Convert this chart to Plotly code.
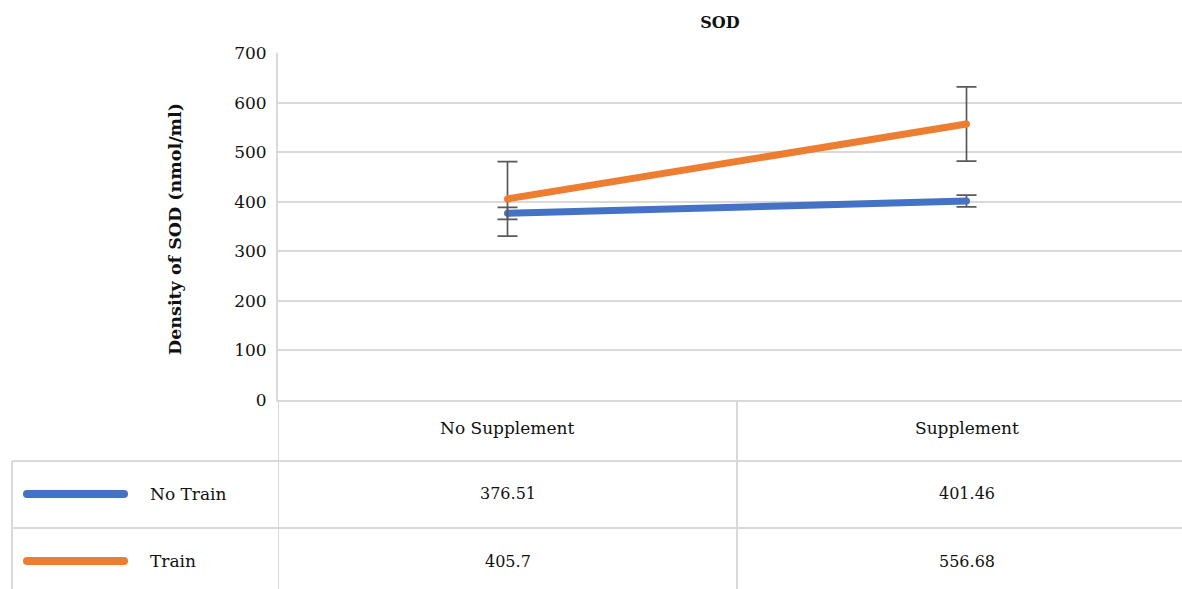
import plotly.graph_objects as go

categories = ["No Supplement", "Supplement"]
series_names = ["No Train", "Train"]
no_train = [376.51, 401.46]
train = [405.7, 556.68]
no_train_err = [12, 12]
train_err = [75, 75]
y_ticks = [0, 100, 200, 300, 400, 500, 600, 700]

W, H = 1182, 589
L, R, T, B = 278, 0, 53, 189
plot_w = W - L - R
plot_h = H - T - B

def py(ypix):
    return (H - B - ypix) / plot_h

def px(xpix):
    return (xpix - L) / plot_w

colors = ["#4472C4", "#ED7D31"]
err_color = "#595959"
grid = "#D9D9D9"
font = "DejaVu Serif"
txt = "#111111"

fig = go.Figure()
for name, vals, errs, c in [(series_names[0], no_train, no_train_err, colors[0]),
                            (series_names[1], train, train_err, colors[1])]:
    fig.add_trace(go.Scatter(
        x=categories, y=vals, mode="lines+markers", name=name,
        line=dict(color=c, width=7),
        marker=dict(color=c, size=7, line=dict(width=0)),
        error_y=dict(type="data", array=errs, visible=True, color=err_color,
                     thickness=1.7, width=10),
        showlegend=False, hoverinfo="skip"))

col_w = 459.0
x_end = -0.5 + plot_w / col_w

shapes = []
ann = []
# table horizontal lines
for yp in [461, 528]:
    shapes.append(dict(type="line", xref="paper", yref="paper", x0=px(12), x1=1,
                       y0=py(yp), y1=py(yp), line=dict(color=grid, width=2)))
# vertical lines
shapes.append(dict(type="line", xref="paper", yref="paper", x0=px(12), x1=px(12),
                   y0=py(461), y1=py(H + 5), line=dict(color=grid, width=2)))
for xv in [-0.5, 0.5]:
    shapes.append(dict(type="line", xref="x", yref="paper", x0=xv, x1=xv,
                       y0=0, y1=py(H + 5), line=dict(color=grid, width=2)))
# header cells
for cat in categories:
    ann.append(dict(x=cat, xref="x", y=py(428), yref="paper", text=cat,
                    xanchor="center", yanchor="middle",
                    showarrow=False, font=dict(family=font, size=17, color=txt)))
# data rows
rows = [(series_names[0], no_train, colors[0], 494), (series_names[1], train, colors[1], 561)]
for name, vals, c, yp in rows:
    x0p, x1p, r = 27, 124, 4
    shapes.append(dict(type="line", xref="paper", yref="paper", x0=px(x0p), x1=px(x1p),
                       y0=py(yp), y1=py(yp), line=dict(color=c, width=8)))
    for xe in (x0p, x1p):
        shapes.append(dict(type="circle", xref="paper", yref="paper",
                           x0=px(xe - r), x1=px(xe + r), y0=py(yp - r), y1=py(yp + r),
                           fillcolor=c, line=dict(width=0)))
    ann.append(dict(x=px(148), xref="paper", y=py(yp), yref="paper", text=name,
                    xanchor="left", yanchor="middle", showarrow=False,
                    font=dict(family=font, size=17, color=txt)))
    for cat, v in zip(categories, vals):
        ann.append(dict(x=cat, xref="x", y=py(yp), yref="paper", text=f"{v:g}",
                        xanchor="center", yanchor="middle",
                        showarrow=False, font=dict(family=font, size=16, color=txt)))
# y-axis title
ann.append(dict(x=px(175), xref="paper", y=py(229), yref="paper",
                xanchor="center", yanchor="middle",
                text="<b>Density of SOD (nmol/ml)</b>", textangle=-90, showarrow=False,
                font=dict(family=font, size=17.5, color=txt)))

fig.update_layout(
    width=W, height=H,
    margin=dict(l=L, r=R, t=T, b=B, pad=0),
    paper_bgcolor="white", plot_bgcolor="white",
    title=dict(text="<b>SOD</b>", x=720 / W, xref="container", xanchor="center",
               y=1 - 22 / H, yref="container", yanchor="middle",
               font=dict(family=font, size=16, color=txt)),
    xaxis=dict(type="category", range=[-0.5, x_end], showticklabels=False,
               showgrid=False, zeroline=False, showline=True, linecolor=grid, linewidth=2,
               ticks=""),
    yaxis=dict(range=[0, 700], tickvals=y_ticks, showgrid=True, gridcolor=grid, gridwidth=2,
               zeroline=False, showline=True, linecolor=grid, linewidth=2, ticks="",
               ticklabelstandoff=6,
               tickfont=dict(family=font, size=17, color=txt)),
    shapes=shapes, annotations=ann,
)

fig.write_html("out.html", config={"displayModeBar": False},
               post_script="document.body.style.margin='0';document.body.style.overflow='hidden';")
